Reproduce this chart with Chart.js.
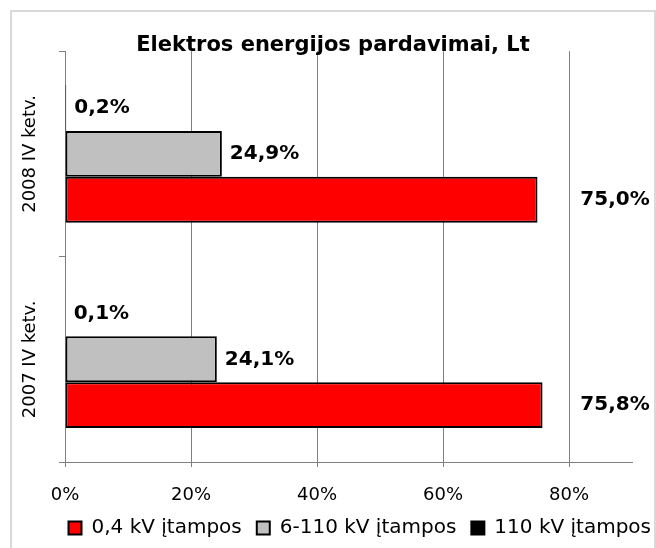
<!DOCTYPE html>
<html><head><meta charset="utf-8">
<script src="https://cdn.jsdelivr.net/npm/chart.js@4/dist/chart.umd.min.js"></script>
<style>html,body{margin:0;padding:0;background:#fff;} canvas{display:block;}</style>
</head><body>
<canvas id="c" width="656" height="548"></canvas>
<script>
const chartTitle = 'Elektros energijos pardavimai, Lt';
const categories = ['2008 IV ketv.', '2007 IV ketv.'];
const seriesNames = ['0,4 kV įtampos', '6-110 kV įtampos', '110 kV įtampos'];
const lowVoltage = [75.0, 75.8];
const midVoltage = [24.9, 24.1];
const highVoltage = [0.2, 0.1];
const xTicks = [0, 20, 40, 60, 80];
const xMax = 90;

const FONT = 'DejaVu Sans';
const fmt = v => v.toFixed(1).replace('.', ',') + '%';

const framePlugin = {
  id: 'frame',
  beforeDraw(chart) {
    const ctx = chart.ctx;
    ctx.save();
    ctx.fillStyle = '#ffffff';
    ctx.fillRect(0, 0, chart.width, chart.height);
    ctx.strokeStyle = '#d9d9d9';
    ctx.lineWidth = 2;
    ctx.strokeRect(11, 11, 644, 560);
    ctx.restore();
  }
};

const valueLabels = {
  id: 'valueLabels',
  afterDatasetsDraw(chart) {
    const ctx = chart.ctx;
    ctx.save();
    ctx.font = 'bold 20px "' + FONT + '"';
    ctx.fillStyle = '#000';
    ctx.textBaseline = 'middle';
    chart.data.datasets.forEach((ds, di) => {
      const meta = chart.getDatasetMeta(di);
      meta.data.forEach((bar, i) => {
        const text = fmt(ds.data[i]);
        if (ds.labelOutside) {
          ctx.textAlign = 'center';
          ctx.fillText(text, chart.chartArea.right - 17, bar.y);
        } else {
          ctx.textAlign = 'left';
          ctx.fillText(text, bar.x + 8, bar.y);
        }
      });
    });
    ctx.restore();
  }
};

const categoryLabels = {
  id: 'categoryLabels',
  afterDraw(chart) {
    const s = chart.scales.y;
    const ctx = chart.ctx;
    s.ticks.forEach((t, i) => {
      const y = s.getPixelForTick(i);
      ctx.save();
      ctx.translate(s.right - 34.5, y);
      ctx.rotate(-Math.PI / 2);
      ctx.font = '18px "' + FONT + '"';
      ctx.fillStyle = '#000';
      ctx.textAlign = 'center';
      ctx.textBaseline = 'middle';
      ctx.fillText(s.getLabelForValue(t.value), 0, 0);
      ctx.restore();
    });
  }
};

const common = { borderColor: '#000000', borderWidth: 2, borderSkipped: false, xAxisID: 'x', yAxisID: 'y' };

new Chart(document.getElementById('c'), {
  type: 'bar',
  data: {
    labels: categories,
    datasets: [
      Object.assign({ label: seriesNames[2], data: highVoltage, backgroundColor: '#000000' }, common),
      Object.assign({ label: seriesNames[1], data: midVoltage, backgroundColor: '#c0c0c0' }, common),
      Object.assign({ label: seriesNames[0], data: lowVoltage, backgroundColor: '#ff0000', labelOutside: true }, common)
    ]
  },
  options: {
    indexAxis: 'y',
    responsive: false,
    animation: false,
    barPercentage: 1,
    categoryPercentage: 0.67,
    layout: { padding: { left: 0, right: -10, top: 0, bottom: 0 } },
    plugins: {
      title: {
        display: true, text: chartTitle, color: '#000',
        font: { family: FONT, size: 21, weight: 'bold' },
        padding: { top: 33, bottom: -7 }
      },
      legend: {
        position: 'bottom', align: 'end', reverse: true,
        labels: { boxWidth: 13, boxHeight: 13, padding: 15, color: '#000', font: { family: FONT, size: 20 } }
      },
      tooltip: { enabled: false }
    },
    scales: {
      x: {
        type: 'linear', position: 'bottom', min: 0, max: xMax,
        afterBuildTicks: s => { s.ticks = xTicks.map(v => ({ value: v })); },
        afterFit: s => { s.height = 41; },
        grid: { color: '#7f7f7f', lineWidth: 1, tickLength: 5, drawTicks: true },
        border: { color: '#7f7f7f', width: 1 },
        ticks: { padding: 18, color: '#000', font: { family: FONT, size: 18 }, callback: v => v + '%' }
      },
      y: {
        type: 'category', position: 'left',
        afterFit: s => { s.width = 65; },
        grid: { drawOnChartArea: false, drawTicks: true, tickLength: 6, color: '#7f7f7f', offset: true },
        border: { color: '#7f7f7f', width: 1 },
        ticks: { display: false }
      },
      yR: {
        type: 'linear', position: 'right', display: true,
        grid: { display: false }, border: { display: false }, ticks: { display: false },
        afterFit: s => { s.width = 34; }
      }
    }
  },
  plugins: [framePlugin, valueLabels, categoryLabels]
});
</script>
</body></html>
